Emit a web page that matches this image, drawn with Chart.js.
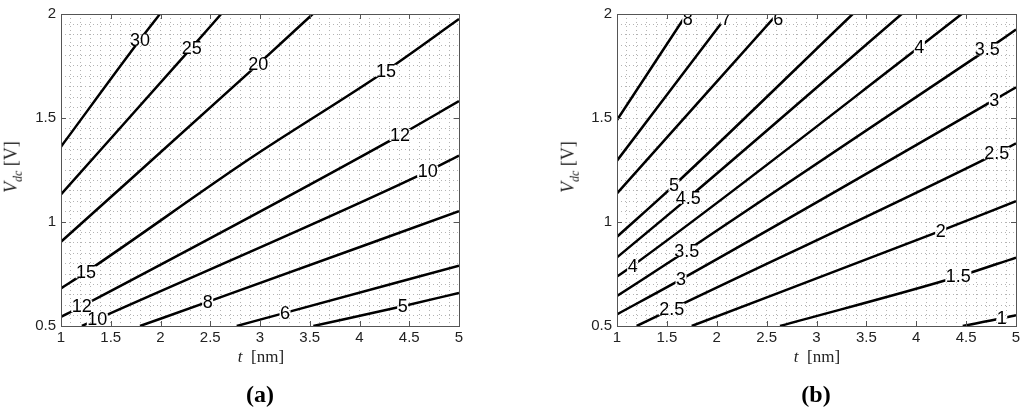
<!DOCTYPE html>
<html>
<head>
<meta charset="utf-8">
<script src="https://cdn.jsdelivr.net/npm/chart.js@4.4.1/dist/chart.umd.min.js"></script>
<style>
  body { margin: 0; background: #fff; }
  #wrap { position: relative; width: 1024px; height: 414px; overflow: hidden; }
  .box { position: absolute; top: 0; width: 512px; height: 414px; }
  .xt, .yt, .cap { position: absolute; white-space: nowrap; font-family: "Liberation Serif", serif; color: #222; }
  .xt { font-size: 17px; transform: translate(-50%, -50%); }
  .yt { font-size: 18px; transform: translate(-50%, -50%) rotate(-90deg); }
  .cap { font-size: 24px; font-weight: bold; color: #000; transform: translate(-50%, -50%); }
  sub { font-size: 12px; }
</style>
</head>
<body>
<div id="wrap">
  <div class="box" style="left:0"><canvas id="chartA"></canvas></div>
  <div class="box" style="left:512px"><canvas id="chartB"></canvas></div>
  <div class="yt" style="left:13px; top:167px"><i>V</i><sub><i>dc</i></sub> [V]</div>
  <div class="yt" style="left:570px; top:167px"><i>V</i><sub><i>dc</i></sub> [V]</div>
  <div class="xt" style="left:261px; top:357px"><i>t</i>&nbsp; [nm]</div>
  <div class="xt" style="left:817px; top:357px"><i>t</i>&nbsp; [nm]</div>
  <div class="cap" style="left:260px; top:394px">(a)</div>
  <div class="cap" style="left:816px; top:394px">(b)</div>
</div>
<script>
// axis ticks (labelled)
const xTickLabels = [1, 1.5, 2, 2.5, 3, 3.5, 4, 4.5, 5];
const yTickLabels = [0.5, 1, 1.5, 2];

// panel (a): contour levels, points along each line (t in nm, Vdc in V)
const levelsA = [30, 25, 20, 15, 12, 10, 8, 6, 5];
const tA = [
  [1, 1.794, 1.995],
  [1, 2.313, 2.61],
  [1, 2.983, 3.53],
  [1, 1.251, 2.9, 4.266, 5],
  [1, 1.208, 4.407, 5],
  [1.21, 1.365, 4.685, 5],
  [1.794, 2.474, 5],
  [2.766, 3.251, 5],
  [3.536, 4.434, 5]
];
const vA = [
  [1.362, 1.876, 2],
  [1.133, 1.838, 2],
  [0.905, 1.759, 2],
  [0.681, 0.759, 1.305, 1.727, 1.976],
  [0.544, 0.595, 1.418, 1.581],
  [0.5, 0.533, 1.243, 1.319],
  [0.5, 0.616, 1.052],
  [0.5, 0.563, 0.79],
  [0.5, 0.595, 0.659]
];
const labelTextA = ['30', '25', '20', '15', '12', '10', '15', '12', '10', '8', '6', '5'];
const labelTA = [1.794, 2.313, 2.983, 4.266, 4.407, 4.685, 1.251, 1.208, 1.365, 2.474, 3.251, 4.434];
const labelVA = [1.876, 1.838, 1.759, 1.727, 1.418, 1.243, 0.759, 0.595, 0.533, 0.616, 0.563, 0.595];

// panel (b)
const levelsB = [8, 7, 6, 5, 4.5, 4, 3.5, 3, 2.5, 2, 1.5, 1];
const tB = [
  [1, 1.699],
  [1, 2.116],
  [1, 2.607],
  [1, 1.571, 3.363],
  [1, 1.715, 3.854],
  [1, 1.157, 4.031, 4.456],
  [1, 1.699, 4.713, 5],
  [1, 1.642, 4.783, 5],
  [1.197, 1.548, 4.807, 5],
  [1.749, 4.245, 5],
  [2.634, 4.422, 5],
  [4.466, 4.857, 5]
];
const vB = [
  [1.49, 2],
  [1.295, 2],
  [1.138, 2],
  [0.929, 1.176, 2],
  [0.83, 1.116, 2],
  [0.738, 0.79, 1.841, 2],
  [0.644, 0.862, 1.83, 1.925],
  [0.556, 0.724, 1.587, 1.648],
  [0.5, 0.581, 1.33, 1.378],
  [0.5, 0.957, 1.1],
  [0.5, 0.738, 0.829],
  [0.5, 0.537, 0.552]
];
const labelTextB = ['8', '7', '6', '5', '4.5', '4', '3.5', '3', '2.5', '4', '3.5', '3', '2.5', '2', '1.5', '1'];
const labelTB = [1.709, 2.093, 2.617, 1.571, 1.715, 1.157, 1.699, 1.642, 1.548, 4.031, 4.713, 4.783, 4.807, 4.245, 4.422, 4.857];
const labelVB = [1.975, 1.978, 1.978, 1.176, 1.116, 0.79, 0.862, 0.724, 0.581, 1.841, 1.83, 1.587, 1.33, 0.957, 0.738, 0.537];

const LABEL_FONT = '18px "Liberation Sans", Arial, sans-serif';
const isMajor = v => Math.abs(v * 2 - Math.round(v * 2)) < 1e-6;

// contour labels with gaps in the lines, box and inward ticks
const contourDeco = {
  id: 'contourDeco',
  beforeDatasetsDraw(chart, args, opts) {
    const ctx = chart.ctx;
    const xs = chart.scales.x, ys = chart.scales.y;
    ctx.save();
    ctx.font = LABEL_FONT;
    ctx.beginPath();
    ctx.rect(0, 0, chart.width, chart.height);
    opts.text.forEach((s, i) => {
      const w = ctx.measureText(s).width + 1;
      const px = xs.getPixelForValue(opts.t[i]);
      const py = ys.getPixelForValue(opts.v[i]);
      ctx.rect(px - w / 2, py - 6, w, 12);
    });
    ctx.clip('evenodd');
  },
  afterDatasetsDraw(chart, args, opts) {
    const ctx = chart.ctx;
    const a = chart.chartArea;
    const xs = chart.scales.x, ys = chart.scales.y;
    ctx.restore();

    ctx.save();
    ctx.beginPath();
    ctx.rect(a.left, a.top, a.right - a.left, a.bottom - a.top);
    ctx.clip();
    ctx.font = LABEL_FONT;
    ctx.fillStyle = '#000';
    ctx.textAlign = 'center';
    ctx.textBaseline = 'middle';
    opts.text.forEach((s, i) => {
      ctx.fillText(s, xs.getPixelForValue(opts.t[i]), ys.getPixelForValue(opts.v[i]) + 1);
    });
    ctx.restore();

    ctx.save();
    ctx.strokeStyle = '#555';
    ctx.lineWidth = 1;
    ctx.beginPath();
    xTickLabels.forEach(v => {
      const x = Math.round(xs.getPixelForValue(v)) + 0.5;
      ctx.moveTo(x, a.bottom); ctx.lineTo(x, a.bottom - 5);
      ctx.moveTo(x, a.top); ctx.lineTo(x, a.top + 5);
    });
    yTickLabels.forEach(v => {
      const y = Math.round(ys.getPixelForValue(v)) + 0.5;
      ctx.moveTo(a.left, y); ctx.lineTo(a.left + 5, y);
      ctx.moveTo(a.right, y); ctx.lineTo(a.right - 5, y);
    });
    ctx.stroke();
    ctx.strokeRect(Math.round(a.left) + 0.5, Math.round(a.top) + 0.5,
      Math.round(a.right - a.left), Math.round(a.bottom - a.top));
    ctx.restore();
  }
};

function makeDatasets(levels, ts, vs) {
  return levels.map((lev, i) => ({
    label: String(lev),
    data: ts[i].map((t, j) => ({ x: t, y: vs[i][j] })),
    showLine: true,
    borderColor: '#000',
    borderWidth: 2.5,
    pointRadius: 0,
    cubicInterpolationMode: 'monotone'
  }));
}

function makeChart(id, datasets, padLeft, padRight, text, t, v) {
  const tickFont = { family: '"Liberation Sans", Arial, sans-serif', size: 15 };
  return new Chart(document.getElementById(id), {
    type: 'scatter',
    data: { datasets: datasets },
    options: {
      responsive: true,
      maintainAspectRatio: false,
      animation: false,
      layout: { padding: { left: padLeft, right: padRight, top: 11, bottom: 0 } },
      plugins: {
        legend: { display: false },
        tooltip: { enabled: false },
        contourDeco: { text: text, t: t, v: v }
      },
      scales: {
        x: {
          type: 'linear',
          min: 1,
          max: 5,
          afterFit: s => { s.height = 88; },
          grid: { color: '#b4b4b4', lineWidth: 1, drawTicks: false },
          border: { display: false, dash: [1, 3] },
          ticks: {
            stepSize: 0.1,
            maxTicksLimit: 100,
            autoSkip: false,
            maxRotation: 0,
            padding: 3,
            color: '#222',
            font: tickFont,
            callback: val => isMajor(val) ? String(Math.round(val * 10) / 10) : ''
          }
        },
        y: {
          type: 'linear',
          min: 0.5,
          max: 2,
          afterFit: s => { s.width = 61; },
          grid: { color: '#b4b4b4', lineWidth: 1, drawTicks: false },
          border: { display: false, dash: [1, 3] },
          ticks: {
            stepSize: 0.05,
            maxTicksLimit: 100,
            autoSkip: false,
            padding: 5,
            color: '#222',
            font: tickFont,
            callback: val => isMajor(val) ? String(Math.round(val * 10) / 10) : ''
          }
        }
      }
    },
    plugins: [contourDeco]
  });
}

makeChart('chartA', makeDatasets(levelsA, tA, vA), 0, 53, labelTextA, labelTA, labelVA);
makeChart('chartB', makeDatasets(levelsB, tB, vB), 44, 8, labelTextB, labelTB, labelVB);
</script>
</body>
</html>
